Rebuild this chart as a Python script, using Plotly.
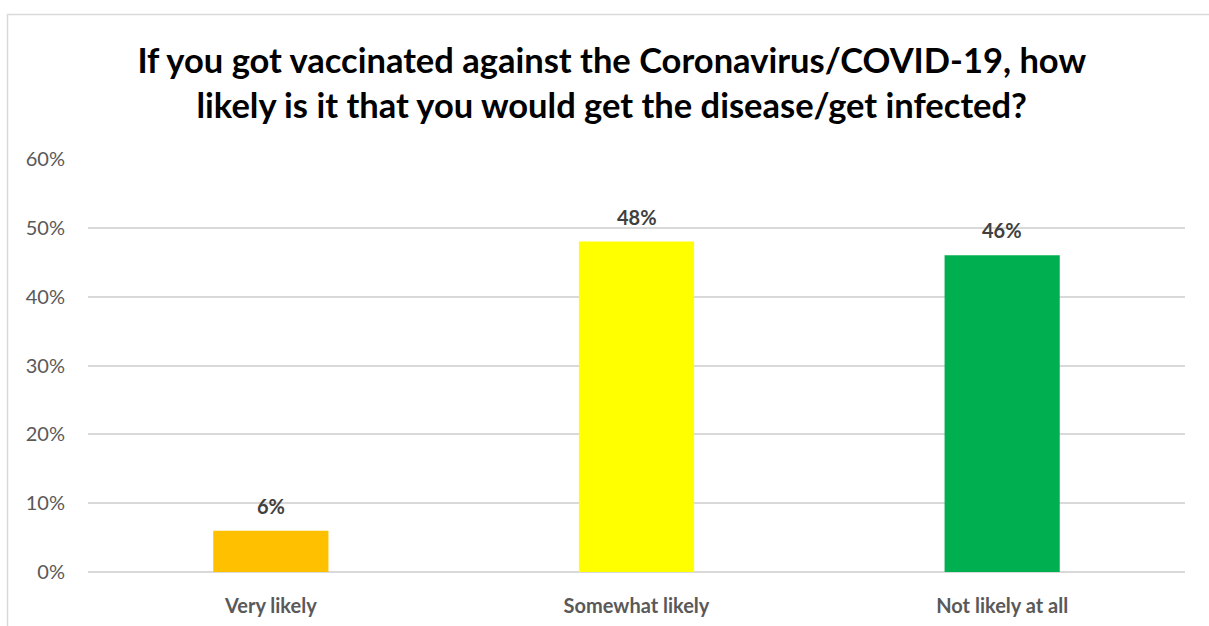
import plotly.graph_objects as go

categories = ["Very likely", "Somewhat likely", "Not likely at all"]
values = [6, 48, 46]
colors = ["#FFC000", "#FFFF00", "#00B050"]
tick_vals = [0, 10, 20, 30, 40, 50, 60]
tick_text = ["0%", "10%", "20%", "30%", "40%", "50%", "60%"]
title_text = ("If you got vaccinated against the Coronavirus/COVID-19, how<br>"
              "likely is it that you would get the disease/get infected?")

W, H = 1209, 626
L, R, T, B = 88, 24, 159, 54
FONT = "Lato"

fig = go.Figure(go.Bar(
    x=categories, y=values, marker=dict(color=colors, line=dict(width=0)),
    width=0.315, cliponaxis=False,
))

for c, v in zip(categories, values):
    fig.add_annotation(x=c, y=v, xref="x", yref="y", text=f"{v}%", showarrow=False,
                       yanchor="middle", yshift=25,
                       font=dict(family=FONT, size=20, color="#404040", weight="bold"))

pw = W - L - R
ph = H - T - B
fig.add_shape(type="rect", xref="paper", yref="paper",
              x0=(7.5 - L) / pw, x1=1.2, y0=-0.5, y1=(H - B - 14.5) / ph,
              line=dict(color="#D9D9D9", width=1.5), fillcolor="rgba(0,0,0,0)", layer="below")

fig.update_layout(
    width=W, height=H, margin=dict(l=L, r=R, t=T, b=B, autoexpand=False),
    paper_bgcolor="white", plot_bgcolor="white",
    showlegend=False,
    title=dict(text=title_text, x=0.506, xanchor="center", y=1 - 73 / H, yanchor="middle",
               font=dict(family=FONT, size=34.5, color="#000000", weight="bold")),
    xaxis=dict(showline=False, showgrid=False, ticks="", ticklabelstandoff=20, automargin=False,
               tickfont=dict(family=FONT, size=20, color="#595959", weight="bold")),
    yaxis=dict(range=[0, 60], tickvals=tick_vals, ticktext=tick_text, automargin=False,
               showgrid=True, gridcolor="#D9D9D9", gridwidth=1.5,
               zeroline=True, zerolinecolor="#D9D9D9", zerolinewidth=1.5,
               showline=False, ticks="", ticklabelstandoff=22,
               tickfont=dict(family=FONT, size=20, color="#595959")),
    bargap=0.685,
)

fig.write_html("out.html")
